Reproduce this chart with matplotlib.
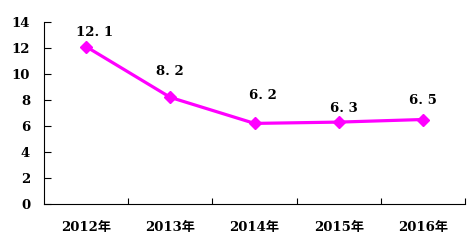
import matplotlib
matplotlib.use("Agg")
import matplotlib.pyplot as plt

years = ["2012年", "2013年", "2014年", "2015年", "2016年"]
values = [12.1, 8.2, 6.2, 6.3, 6.5]
value_labels = ["12. 1", "8. 2", "6. 2", "6. 3", "6. 5"]
y_ticks = [0, 2, 4, 6, 8, 10, 12, 14]

# label offsets above each point (points), as placed in the source chart
label_dx = [6, 0, 6, 4, 0]
label_dy = [10, 19, 20, 10, 14]

FONT = ["DejaVu Serif", "Noto Sans CJK SC"]

fig = plt.figure(figsize=(4.74, 2.47), dpi=100)
ax = fig.add_axes([0.093, 0.174, 0.888, 0.737])

x = list(range(len(years)))
ax.plot(x, values, color="#ff00ff", lw=2.3, marker="D", ms=6.5,
        markeredgecolor="#ff00ff", markerfacecolor="#ff00ff")
for xi, v, lab, dx, dy in zip(x, values, value_labels, label_dx, label_dy):
    ax.annotate(lab, (xi, v), xytext=(dx, dy), textcoords="offset points",
                ha="center", va="center", fontsize=9.5, fontweight="bold",
                family=FONT)

ax.set_xlim(-0.5, len(years) - 0.5)
ax.set_ylim(0, 14)
ax.set_yticks(y_ticks)
ax.set_yticklabels([str(t) for t in y_ticks], family=FONT, fontweight="bold", fontsize=9.5)
ax.set_xticks([i + 0.5 for i in range(len(years))])
ax.set_xticklabels([])
ax.set_xticks(x, minor=True)
ax.set_xticklabels(years, minor=True, family=FONT, fontweight="bold", fontsize=9.5)
ax.tick_params(axis="x", which="major", direction="in", length=4, width=0.8)
ax.tick_params(axis="x", which="minor", length=0, pad=12)
ax.tick_params(axis="y", direction="in", length=5, width=0.8, pad=10)
ax.spines["top"].set_visible(False)
ax.spines["right"].set_visible(False)
ax.spines["left"].set_linewidth(0.8)
ax.spines["bottom"].set_linewidth(0.8)

fig.savefig("out.png", dpi=100)
